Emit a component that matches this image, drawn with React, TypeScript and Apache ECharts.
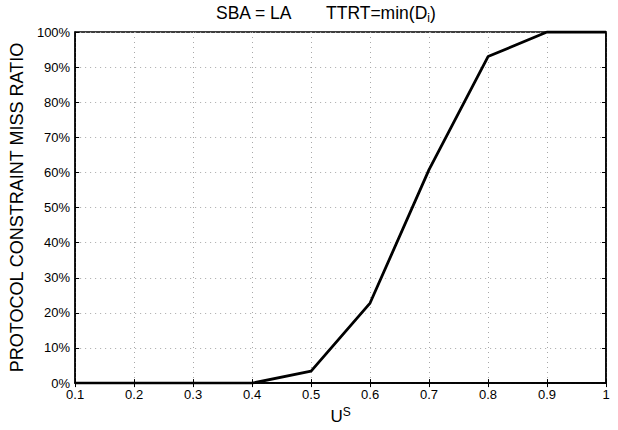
import React, { useEffect, useRef } from "react";
import * as echarts from "echarts";

const xValues = [0.1, 0.2, 0.3, 0.4, 0.5, 0.6, 0.7, 0.8, 0.9, 1.0];
const missRatio = [0, 0, 0, 0, 3.4, 22.8, 60.8, 93, 100, 100];
const yTickLabels = ["0%", "10%", "20%", "30%", "40%", "50%", "60%", "70%", "80%", "90%", "100%"];
const titleParts = ["SBA = LA{sub| }", "TTRT=min(D{sub|i})"];

const FONT = "Liberation Sans, Arial, Helvetica, sans-serif";

export default function App() {
  const ref = useRef<HTMLDivElement>(null);
  useEffect(() => {
    if (!ref.current) return;
    const chart = echarts.init(ref.current, undefined, { renderer: "svg" });
    const gridLine = { show: true, lineStyle: { color: "#a8a8a8", type: [1, 4] as any, width: 1 } };
    const titleStyle = {
      fontFamily: FONT,
      fontSize: 17.5,
      fontWeight: "normal",
      color: "#000",
      rich: {
        sub: { fontFamily: FONT, fontSize: 12, color: "#000", verticalAlign: "bottom", padding: [11, 0, 0, 0] },
      },
    };
    chart.setOption({
      animation: false,
      backgroundColor: "#ffffff",
      textStyle: { fontFamily: FONT },
      title: [
        { text: titleParts[0], left: 216, top: 1, padding: 0, textStyle: titleStyle },
        { text: titleParts[1], left: 326, top: 1, padding: 0, textStyle: titleStyle },
      ],
      grid: { left: 75, right: 12, top: 32, bottom: 43, show: true, borderColor: "#000", borderWidth: 1.5 },
      xAxis: [
        {
          type: "value",
          min: 0.1,
          max: 1,
          interval: 0.1,
          name: "U{sup|S}",
          nameLocation: "middle",
          nameGap: 18,
          nameTextStyle: {
            fontFamily: FONT,
            fontSize: 17,
            color: "#000",
            rich: { sup: { fontFamily: FONT, fontSize: 12, color: "#000", verticalAlign: "top", padding: [0, 0, 9, 0] } },
          },
          axisLine: { show: true, lineStyle: { color: "#000", width: 1.5 } },
          axisTick: { show: true, inside: true, length: 4, lineStyle: { color: "#000" } },
          axisLabel: {
            color: "#000",
            fontSize: 13,
            margin: 5,
            fontFamily: FONT,
            formatter: (v: number) => (Math.abs(v - 1) < 1e-9 ? "1" : v.toFixed(1)),
          },
          splitLine: gridLine,
        },
        {
          type: "value",
          position: "top",
          min: 0.1,
          max: 1,
          interval: 0.1,
          axisLine: { show: true, lineStyle: { color: "#000", width: 1.5 } },
          axisTick: { show: true, inside: true, length: 4, lineStyle: { color: "#000" } },
          axisLabel: { show: false },
          splitLine: { show: false },
        },
      ],
      yAxis: [
        {
          type: "value",
          min: 0,
          max: 100,
          interval: 10,
          name: "PROTOCOL CONSTRAINT MISS RATIO",
          nameLocation: "middle",
          nameGap: 44,
          nameTextStyle: { fontFamily: FONT, fontSize: 18, color: "#000" },
          axisLine: { show: true, lineStyle: { color: "#000", width: 1.5 } },
          axisTick: { show: true, inside: true, length: 4, lineStyle: { color: "#000" } },
          axisLabel: {
            color: "#000",
            fontSize: 13,
            margin: 5,
            fontFamily: FONT,
            formatter: (v: number) => yTickLabels[Math.round(v / 10)],
          },
          splitLine: gridLine,
        },
        {
          type: "value",
          position: "right",
          min: 0,
          max: 100,
          interval: 10,
          axisLine: { show: true, lineStyle: { color: "#000", width: 1.5 } },
          axisTick: { show: true, inside: true, length: 4, lineStyle: { color: "#000" } },
          axisLabel: { show: false },
          splitLine: { show: false },
        },
      ],
      series: [
        {
          type: "line",
          data: xValues.map((x, i) => [x, missRatio[i]]),
          showSymbol: false,
          symbol: "none",
          lineStyle: { color: "#000", width: 2.8 },
          itemStyle: { color: "#000" },
        },
      ],
    });
    return () => chart.dispose();
  }, []);
  return <div ref={ref} style={{ position: "fixed", left: 0, top: 0, width: 618, height: 430 }} />;
}
